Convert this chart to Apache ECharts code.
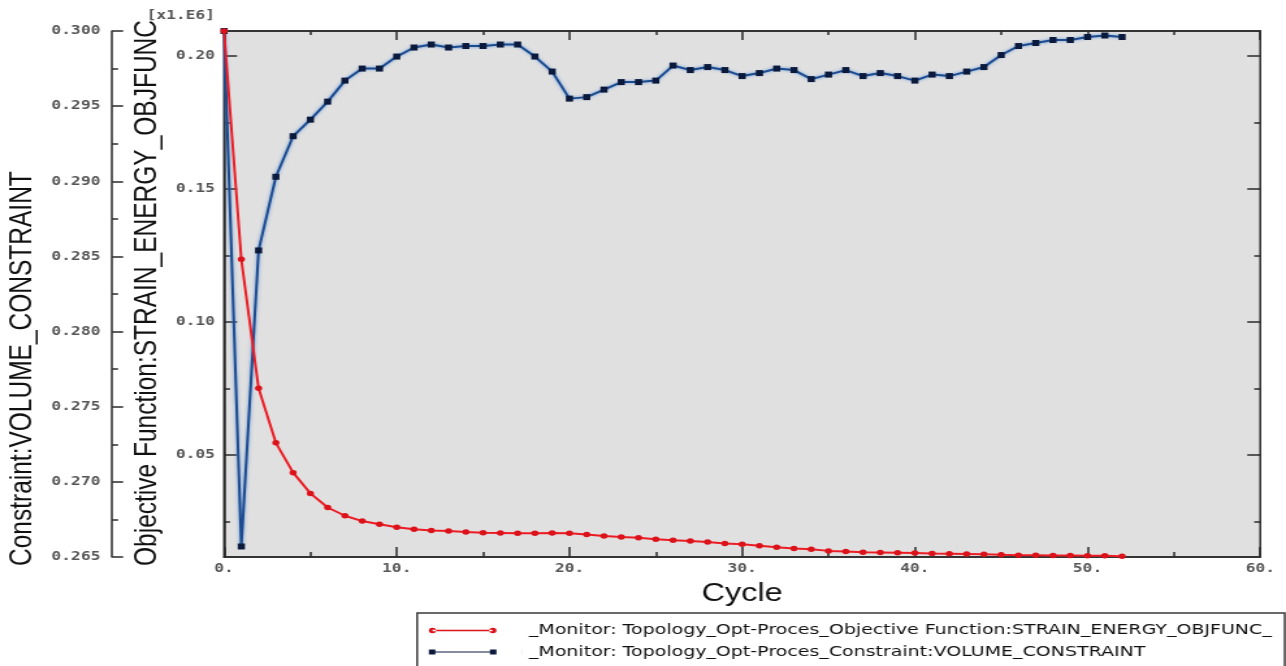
<!DOCTYPE html>
<html>
<head>
	<meta charset="UTF-8">
	<title>Topology_Opt-Proces monitor</title>
	<style>
		html, body { margin: 0; padding: 0; background: #fff; overflow: hidden; }
		/* the source picture is stretched sideways (~1.3x), so draw narrow and widen it */
		#main { width: 989px; height: 666px; transform: scaleX(1.3003); transform-origin: 0 0; }
	</style>
</head>
<body>
	<div id="main"></div>

	<script src="https://cdn.jsdelivr.net/npm/echarts@6/dist/echarts.min.js"></script>
	<script type="text/javascript">

		// cycle numbers
		var cycles = [0, 1, 2, 3, 4, 5, 6, 7, 8, 9, 10, 11, 12, 13, 14, 15, 16, 17, 18, 19,
			20, 21, 22, 23, 24, 25, 26, 27, 28, 29, 30, 31, 32, 33, 34, 35, 36, 37, 38, 39,
			40, 41, 42, 43, 44, 45, 46, 47, 48, 49, 50, 51, 52];

		// objective function STRAIN_ENERGY_OBJFUNC  [x1.E6]
		var objective = [0.2094, 0.1236, 0.0751, 0.0546, 0.0434, 0.0356, 0.0303, 0.0272, 0.0252, 0.0240,
			0.0229, 0.0221, 0.0217, 0.0215, 0.0211, 0.0208, 0.0207, 0.0206, 0.0206, 0.0207,
			0.0206, 0.0202, 0.0196, 0.0192, 0.0189, 0.0184, 0.0180, 0.0177, 0.0173, 0.0168,
			0.0165, 0.0159, 0.0154, 0.0149, 0.0146, 0.0140, 0.0138, 0.0135, 0.0134, 0.0133,
			0.0132, 0.0130, 0.0129, 0.0128, 0.0127, 0.0125, 0.0124, 0.0124, 0.0123, 0.0123,
			0.0122, 0.0122, 0.0120];

		// constraint VOLUME_CONSTRAINT
		var constraint = [0.3000, 0.2657, 0.2854, 0.2903, 0.2930, 0.2941, 0.2953, 0.2967, 0.2975, 0.2975,
			0.2983, 0.2989, 0.2991, 0.2989, 0.2990, 0.2990, 0.2991, 0.2991, 0.2983, 0.2973,
			0.2955, 0.2956, 0.2961, 0.2966, 0.2966, 0.2967, 0.2977, 0.2974, 0.2976, 0.2974,
			0.2970, 0.2972, 0.2975, 0.2974, 0.2968, 0.2971, 0.2974, 0.2970, 0.2972, 0.2970,
			0.2967, 0.2971, 0.2970, 0.2973, 0.2976, 0.2984, 0.2990, 0.2992, 0.2994, 0.2994,
			0.2996, 0.2997, 0.2996];

		// tick values of the objective axis
		var objLabelTicks = [0.05, 0.10, 0.15, 0.20];
		var objMinorTicks = [0.025, 0.075, 0.125, 0.175];

		var seriesNames = [
			'_Monitor: Topology_Opt-Proces_Objective Function:STRAIN_ENERGY_OBJFUNC_',
			'_Monitor: Topology_Opt-Proces_Constraint:VOLUME_CONSTRAINT'
		];

		var frame = '#2a2a2a';
		var tickFont = { fontFamily: 'DejaVu Sans Mono', fontSize: 12.5, fontWeight: 'bold', color: '#555' };
		var objMin = 0.0117, objMax = 0.2094;

		// legend icons: a line with a marker at both ends
		var redIcon = 'path://M0,3a2.8,2.8 0 1,0 5.6,0a2.8,2.8 0 1,0 -5.6,0z M2.8,2.3h46v1.4h-46z M46.4,3a2.8,2.8 0 1,0 5.6,0a2.8,2.8 0 1,0 -5.6,0z M71.95,2.95h0.05v0.05h-0.05z';
		var blueIcon = 'path://M0,0.5h5v5h-5z M2.5,2.5h47v1h-47z M47,0.5h5v5h-5z M71.95,0h0.05v6h-0.05z';

		function pairs(ys) {
			var out = [];
			for (var i = 0; i < cycles.length; i++) {
				out.push([cycles[i], ys[i]]);
			}
			return out;
		}

		function tickAxis(pos, values, len) {
			return {
				type: 'value', min: objMin, max: objMax, position: pos, offset: 0,
				axisLine: { show: false },
				axisTick: { show: true, inside: true, length: len, customValues: values, lineStyle: { color: frame, width: 1.5 } },
				axisLabel: { show: false },
				splitLine: { show: false }
			};
		}

		var myChart = echarts.init(document.getElementById('main'));

		var option = {
			animation: false,
			grid: {
				left: 172.3, top: 31, width: 796.9, height: 526,
				show: true, backgroundColor: '#e0e0e0', borderColor: frame, borderWidth: 1.5
			},
			legend: {
				orient: 'vertical',
				left: 320.8, top: 613, height: 46,
				data: [
					{ name: seriesNames[0], icon: redIcon },
					{ name: seriesNames[1], icon: blueIcon }
				],
				itemWidth: 72, itemHeight: 6, itemGap: 6.5,
				padding: [10, 10, 14, 9],
				backgroundColor: '#fff', borderColor: '#3a3a3a', borderWidth: 1.5, borderRadius: 0,
				selectedMode: false,
				textStyle: { fontFamily: 'DejaVu Sans', fontSize: 14.6, color: '#111' }
			},
			xAxis: [{
				type: 'value', min: 0, max: 60, interval: 10, position: 'bottom',
				name: 'Cycle', nameLocation: 'middle', nameGap: 25,
				nameTextStyle: { fontFamily: 'Liberation Sans', fontSize: 25, color: '#111', verticalAlign: 'top' },
				axisLine: { show: true, lineStyle: { color: frame, width: 1.5 } },
				axisTick: { inside: true, length: 10, lineStyle: { color: frame, width: 1.5 } },
				minorTick: { show: true, splitNumber: 2, length: 5, lineStyle: { color: frame, width: 1.5 } },
				axisLabel: Object.assign({ margin: 5, formatter: function (v) { return v + '.'; } }, tickFont),
				splitLine: { show: false }
			}, {
				type: 'value', min: 0, max: 60, interval: 10, position: 'top',
				axisLine: { show: true, lineStyle: { color: frame, width: 1.5 } },
				axisTick: { inside: true, length: 9, lineStyle: { color: frame, width: 1.5 } },
				minorTick: { show: true, splitNumber: 2, length: 4, lineStyle: { color: frame, width: 1.5 } },
				axisLabel: { show: false },
				splitLine: { show: false }
			}],
			yAxis: [{
				// objective function, inner left axis
				type: 'value', min: objMin, max: objMax, position: 'left', offset: 0,
				axisLine: { show: true, lineStyle: { color: frame, width: 1.5 } },
				axisTick: { show: true, inside: true, length: 10, customValues: objLabelTicks, lineStyle: { color: frame, width: 1.5 } },
				axisLabel: Object.assign({ margin: 7, customValues: objLabelTicks, formatter: function (v) { return v.toFixed(2); } }, tickFont),
				splitLine: { show: false }
			}, {
				// constraint, outer left axis
				type: 'value', min: 0.265, max: 0.300, interval: 0.005, position: 'left', offset: 86.1,
				axisLine: { show: true, onZero: false, lineStyle: { color: frame, width: 1.5 } },
				axisTick: { show: true, inside: true, length: 8.5, lineStyle: { color: frame, width: 1.5 } },
				minorTick: { show: true, splitNumber: 2, length: 4.6, lineStyle: { color: frame, width: 1.5 } },
				axisLabel: Object.assign({ margin: 9, formatter: function (v) { return v.toFixed(3); } }, tickFont),
				splitLine: { show: false }
			},
				tickAxis('left', objMinorTicks, 4.6),
				tickAxis('right', objLabelTicks, 10),
				tickAxis('right', objMinorTicks, 4.6)
			],
			graphic: [
				{
					type: 'text', x: 165.4, y: 16,
					style: { text: '[x1.E6]', font: 'bold 12.5px "DejaVu Sans Mono"', fill: '#555',
						align: 'right', textAlign: 'right', verticalAlign: 'middle', textVerticalAlign: 'middle' }
				},
				{
					type: 'text', x: 17.2, y: 566, rotation: Math.PI / 2,
					style: { text: 'Constraint:VOLUME_CONSTRAINT', font: '24.5px "Liberation Sans"', fill: '#111',
						align: 'left', textAlign: 'left', verticalAlign: 'middle', textVerticalAlign: 'middle' }
				},
				{
					type: 'text', x: 113.3, y: 566, rotation: Math.PI / 2,
					style: { text: 'Objective Function:STRAIN_ENERGY_OBJFUNC', font: '24.5px "Liberation Sans"', fill: '#111',
						align: 'left', textAlign: 'left', verticalAlign: 'middle', textVerticalAlign: 'middle' }
				}
			],
			series: [{
				name: seriesNames[1],
				type: 'line',
				xAxisIndex: 0, yAxisIndex: 1,
				data: pairs(constraint),
				symbol: 'rect', symbolSize: [5.5, 6],
				showAllSymbol: true, clip: false,
				itemStyle: { color: '#0b1a3c', borderWidth: 0 },
				lineStyle: { color: '#1d4b8f', width: 2, shadowColor: 'rgba(80,140,215,0.9)', shadowBlur: 3 },
				z: 2
			}, {
				name: seriesNames[0],
				type: 'line',
				xAxisIndex: 0, yAxisIndex: 0,
				data: pairs(objective),
				symbol: 'circle', symbolSize: 5.5,
				showAllSymbol: true, clip: false,
				itemStyle: { color: '#dc121a', borderWidth: 0 },
				lineStyle: { color: '#ec1c24', width: 2 },
				z: 3
			}]
		};

		myChart.setOption(option);

	</script>
</body>
</html>
